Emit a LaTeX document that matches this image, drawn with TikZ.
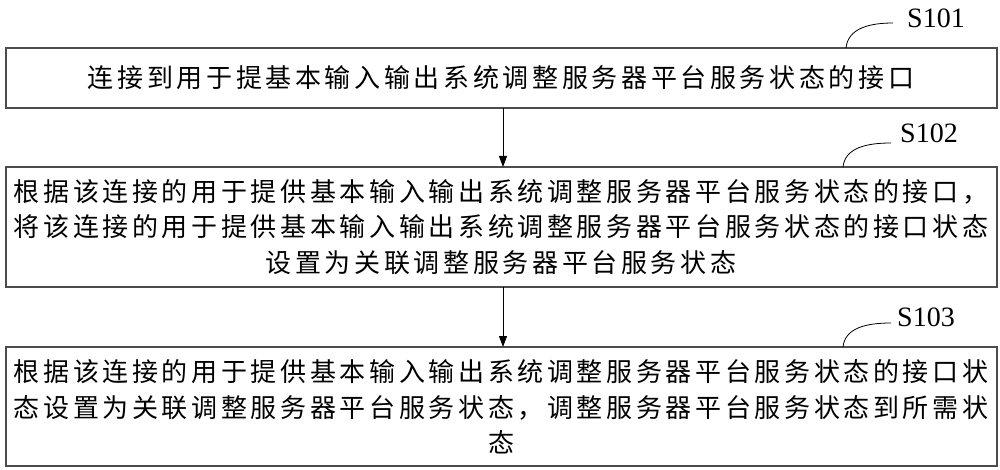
\documentclass[tikz,border=0pt]{standalone}
\usepackage{fontspec}
\setmainfont{Liberation Serif}
\newfontfamily\cjk[LetterSpace=14]{Noto Sans CJK SC}
\usetikzlibrary{arrows.meta}
\begin{document}
\begin{tikzpicture}[x=1pt,y=-1pt,
  box/.style={draw=black!70,line width=1.1pt},
  txt/.style={font=\cjk\fontsize{26}{35.5}\selectfont,align=center,inner sep=0pt},
  lab/.style={font=\fontsize{28}{28}\selectfont,inner sep=0pt},
  conn/.style={line width=0.8pt,-{Triangle[length=11pt,width=8pt]}},
  curl/.style={line width=0.8pt}]
\useasboundingbox (0,0) rectangle (1000,470);
\draw[box] (6,48) rectangle (997,108);
\draw[box] (6,167) rectangle (997,287);
\draw[box] (6,347) rectangle (997,466);
\coordinate (b1t) at (503,108); \coordinate (b2t) at (503,167);
\coordinate (b2b) at (503,287); \coordinate (b3t) at (503,347);
\node[txt] (t1) at (501,78) {连接到用于提基本输入输出系统调整服务器平台服务状态的接口};
\node[txt] (t2) at (501,227) {根据该连接的用于提供基本输入输出系统调整服务器平台服务状态的接口，\\将该连接的用于提供基本输入输出系统调整服务器平台服务状态的接口状态\\设置为关联调整服务器平台服务状态};
\node[txt] (t3) at (501,407) {根据该连接的用于提供基本输入输出系统调整服务器平台服务状态的接口状\\态设置为关联调整服务器平台服务状态，调整服务器平台服务状态到所需状\\态};
\draw[conn] (b1t) -- (b2t);
\draw[conn] (b2b) -- (b3t);
\node[lab] (s1) at (936,18) {S101};
\node[lab] (s2) at (929,133) {S102};
\node[lab] (s3) at (926,317) {S103};
\coordinate (c1a) at (846,48); \coordinate (c1b) at (893,23);
\coordinate (c2a) at (843,167); \coordinate (c2b) at (891,143);
\coordinate (c3a) at (843,347); \coordinate (c3b) at (891,323);
\draw[curl] (c1a) .. controls (848,28) and (870,23) .. (c1b);
\draw[curl] (c2a) .. controls (845,148) and (866,143) .. (c2b);
\draw[curl] (c3a) .. controls (845,328) and (866,323) .. (c3b);
\end{tikzpicture}
\end{document}
